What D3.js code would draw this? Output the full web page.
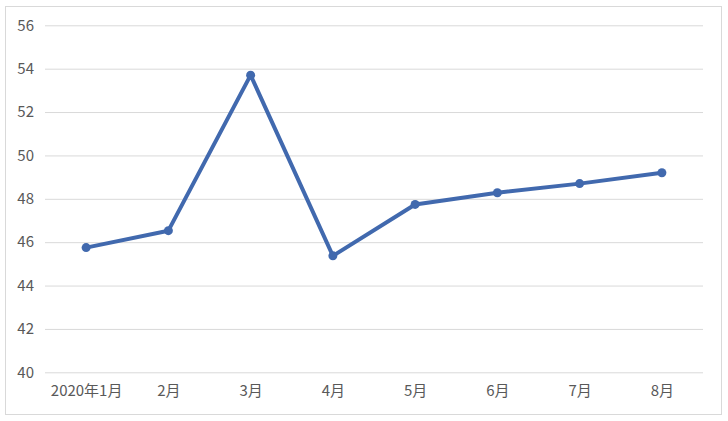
<!DOCTYPE html>
<html><head><meta charset="utf-8">
<script src="https://cdn.jsdelivr.net/npm/d3@7"></script>
<style>body{margin:0;background:#fff}svg{display:block}</style>
</head><body>
<svg id="c" width="728" height="421"></svg>
<script>
const categories = ["2020年1月","2月","3月","4月","5月","6月","7月","8月"];
const values = [45.75, 46.53, 53.7, 45.37, 47.74, 48.28, 48.7, 49.2];
const yTicks = [40,42,44,46,48,50,52,54,56];

const svg = d3.select("#c");
const font = "'Noto Sans CJK SC', 'Microsoft YaHei', sans-serif";
svg.append("rect").attr("x",5.5).attr("y",6.5).attr("width",716).attr("height",408)
  .attr("fill","#fff").attr("stroke","#d9d9d9");

const x = d3.scalePoint().domain(categories).range([45,703]).padding(0.5);
const y = d3.scaleLinear().domain([40,56]).range([372.3,25.3]);

const yAxis = svg.append("g").attr("transform","translate(45,0)")
  .call(d3.axisLeft(y).tickValues(yTicks).tickSize(-658).tickPadding(11));
yAxis.select(".domain").remove();
yAxis.selectAll("line").attr("stroke","#d9d9d9").attr("stroke-width",1);
yAxis.selectAll("text").attr("fill","#595959").style("font-size","15px").style("font-family",font);

const xAxis = svg.append("g").attr("transform","translate(0,372.3)")
  .call(d3.axisBottom(x).tickSize(0).tickPadding(13));
xAxis.select(".domain").remove();
xAxis.selectAll("text").attr("fill","#595959").style("font-size","15px").style("font-family",font);

const line = d3.line().x((d,i)=>x(categories[i])).y(d=>y(d));
svg.append("path").datum(values).attr("d",line).attr("fill","none")
  .attr("stroke","#4169AE").attr("stroke-width",4).attr("stroke-linejoin","round");
svg.selectAll("circle.pt").data(values).join("circle").attr("class","pt")
  .attr("cx",(d,i)=>x(categories[i])).attr("cy",d=>y(d)).attr("r",4.5).attr("fill","#4169AE");
</script>
</body></html>
